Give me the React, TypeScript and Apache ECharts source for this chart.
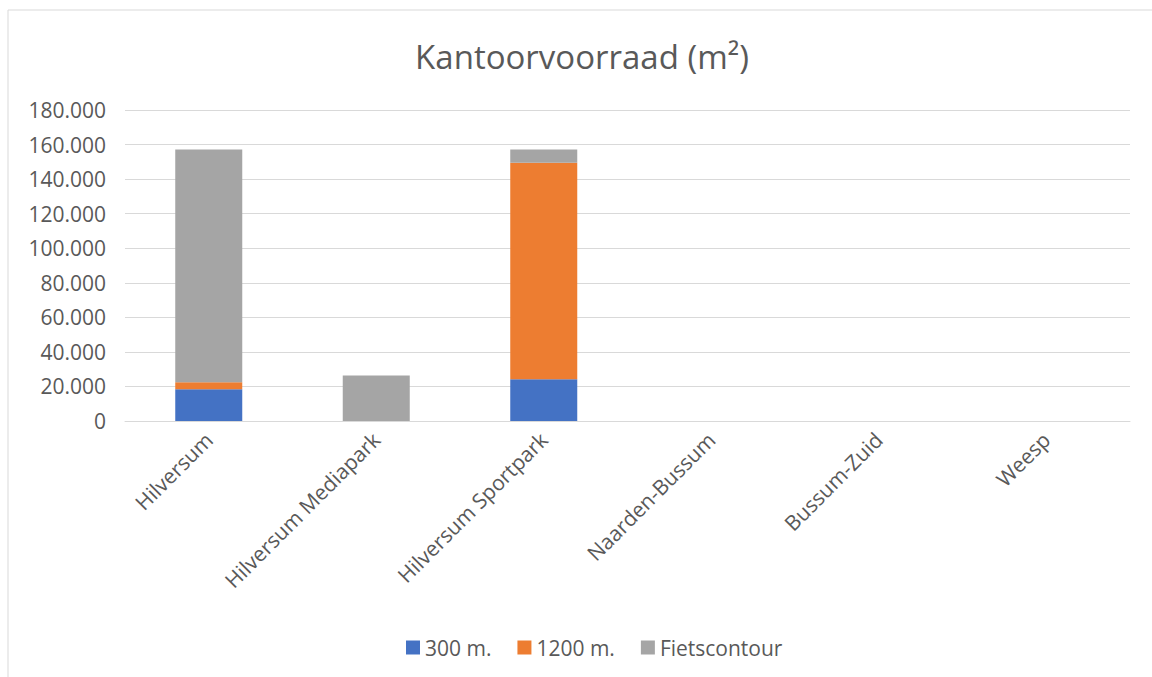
import React, { useEffect, useRef } from "react";
import * as echarts from "echarts";

const categories = ["Hilversum", "Hilversum Mediapark", "Hilversum Sportpark", "Naarden-Bussum", "Bussum-Zuid", "Weesp"];
const s300 = [18400, 0, 24200, 0, 0, 0];
const s1200 = [4000, 0, 125200, 0, 0, 0];
const sFiets = [134700, 26300, 7700, 0, 0, 0];
const seriesNames = ["300 m.", "1200 m.", "Fietscontour"];
const colors = ["#4472C4", "#ED7D31", "#A5A5A5"];

const fmt = (v: number) => String(v).replace(/\B(?=(\d{3})+(?!\d))/g, ".");

export default function App() {
  const ref = useRef<HTMLDivElement>(null);
  useEffect(() => {
    const chart = echarts.init(ref.current!, null, { renderer: "svg" });
    const font = "'Open Sans', 'Noto Sans', sans-serif";
    const data = [s300, s1200, sFiets];
    chart.setOption({
      animation: false,
      backgroundColor: "#ffffff",
      textStyle: { fontFamily: font },
      graphic: [
        {
          type: "rect",
          shape: { x: 8, y: 10, width: 1200, height: 700 },
          style: { fill: "none", stroke: "#d9d9d9", lineWidth: 1 },
          silent: true,
        },
      ],
      title: {
        text: "Kantoorvoorraad (m²)",
        left: 577,
        textAlign: "center",
        top: 35,
        textStyle: { fontFamily: font, fontSize: 33, fontWeight: "normal", color: "#595959" },
      },
      legend: {
        top: 632,
        left: 401,
        data: seriesNames,
        itemWidth: 14,
        itemHeight: 14,
        itemGap: 26,
        icon: "rect",
        textStyle: { fontFamily: font, fontSize: 21, color: "#595959" },
      },
      grid: { left: 125, right: 22, top: 110, bottom: 256, containLabel: false },
      xAxis: {
        type: "category",
        data: categories,
        axisLine: { show: true, lineStyle: { color: "#d9d9d9" } },
        axisTick: { show: false },
        axisLabel: {
          rotate: 45,
          fontFamily: font,
          fontSize: 21,
          color: "#595959",
          margin: 15,
          interval: 0,
        },
      },
      yAxis: {
        type: "value",
        min: 0,
        max: 180000,
        interval: 20000,
        axisLine: { show: false },
        axisTick: { show: false },
        splitLine: { lineStyle: { color: "#d9d9d9", width: 1 } },
        axisLabel: {
          fontFamily: font,
          fontSize: 21,
          color: "#595959",
          margin: 19,
          formatter: (v: number) => fmt(v),
        },
      },
      series: seriesNames.map((name, i) => ({
        name,
        type: "bar",
        stack: "total",
        data: data[i],
        barWidth: "40%",
        itemStyle: { color: colors[i] },
      })),
    });
    return () => chart.dispose();
  }, []);
  return (
    <div
      ref={ref}
      style={{ position: "fixed", left: 0, top: 0, width: 1152, height: 677 }}
    />
  );
}
